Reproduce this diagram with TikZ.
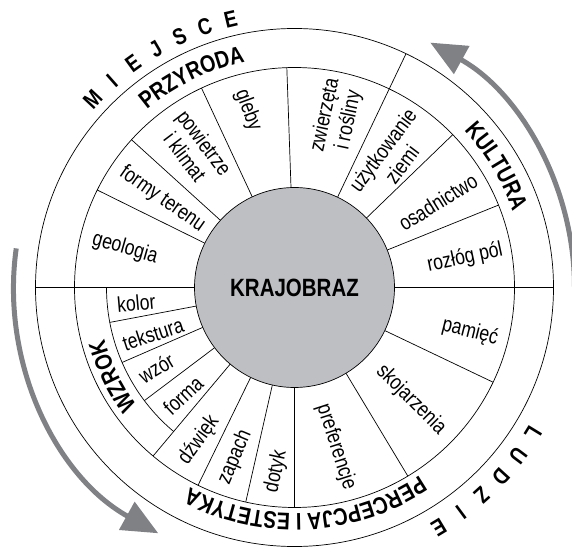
\documentclass[tikz,border=0pt]{standalone}
\usepackage{fontspec}
\setmainfont{Liberation Sans}[FakeStretch=0.82]
\usetikzlibrary{arrows.meta,decorations.text}
\definecolor{hubgray}{RGB}{190,191,195}
\definecolor{arrowgray}{RGB}{128,129,133}
\newcommand\bandfont{\fontsize{24}{26}\selectfont\bfseries}

\begin{document}
\begin{tikzpicture}[x=1pt,y=1pt,
  ring/.style={draw,line width=0.7pt},
  spoke/.style={line width=0.7pt},
  hub/.style={draw,circle,fill=hubgray,line width=0.7pt,minimum size=200pt,inner sep=0pt,font=\fontsize{25}{25}\selectfont\bfseries},
  lbl/.style={align=center,inner sep=0pt,font=\fontsize{21.5}{24}\selectfont},
  letter/.style={inner sep=0pt,font=\fontsize{23}{24}\selectfont\bfseries},
  flow/.style={draw=arrowgray,line width=5pt,-{Triangle[length=36pt,width=31pt]}},
  band/.style={decorate,decoration={text along path,text align=center}}]
\useasboundingbox (-294.5,-260.5) rectangle (277.5,287.5);
\draw[ring] (0,0) circle[radius=259];
\draw[ring] (0,0) circle[radius=220];
\draw[ring] (180:188) arc[start angle=180,end angle=230,radius=188];
\draw[spoke] (0:100) -- (0:259);
\draw[spoke] (22:100) -- (22:220);
\draw[spoke] (44:100) -- (44:220);
\draw[spoke] (64.5:100) -- (64.5:259);
\draw[spoke] (92:100) -- (92:220);
\draw[spoke] (115:100) -- (115:220);
\draw[spoke] (137.8:100) -- (137.8:220);
\draw[spoke] (153.7:100) -- (153.7:220);
\draw[spoke] (180:100) -- (180:259);
\draw[spoke] (190.7:100) -- (190.7:188);
\draw[spoke] (203.5:100) -- (203.5:188);
\draw[spoke] (217:100) -- (217:188);
\draw[spoke] (230:100) -- (230:220);
\draw[spoke] (244:100) -- (244:220);
\draw[spoke] (257.2:100) -- (257.2:220);
\draw[spoke] (270:100) -- (270:220);
\draw[spoke] (-59:100) -- (-59:220);
\draw[spoke] (-25.5:100) -- (-25.5:220);
\node[hub] (krajobraz) at (0,0) {KRAJOBRAZ};

\node[lbl,rotate=-16] (geologia) at (167:174) {geologia};
\node[lbl,rotate=-35] (formy) at (146.2:159) {formy terenu};
\node[lbl,rotate=-53] (powietrze) at (125.9:170) {powietrze\\i klimat};
\node[lbl,rotate=-70] (gleby) at (104.7:183) {gleby};
\node[lbl,rotate=78] (zwierzeta) at (75.9:175) {zwierzęta\\i rośliny};
\node[lbl,rotate=53] (uzytkowanie) at (53.2:163) {użytkowanie\\ziemi};
\node[lbl,rotate=32] (osadnictwo) at (30.8:167) {osadnictwo};
\node[lbl,rotate=12] (rozlog) at (9.8:173) {rozłóg pól};
\node[lbl,rotate=-14] (pamiec) at (-14.2:181) {pamięć};
\node[lbl,rotate=-45] (skojarzenia) at (-44:162) {skojarzenia};
\node[lbl,rotate=-72] (preferencje) at (-75.4:165) {preferencje};
\node[lbl,rotate=78] (dotyk) at (264.3:185) {dotyk};
\node[lbl,rotate=67] (zapach) at (250.7:180) {zapach};
\node[lbl,rotate=54] (dzwiek) at (237.9:180) {dźwięk};
\node[lbl,rotate=43] (forma) at (224:155) {forma};
\node[lbl,rotate=31] (wzor) at (210.2:160) {wzór};
\node[lbl,rotate=18] (tekstura) at (198.2:149) {tekstura};
\node[lbl,rotate=5] (kolor) at (185.6:159) {kolor};

\path[band,decoration={text={|\bandfont|PRZYRODA}}] (146:231) arc[start angle=146,end angle=86,radius=231];
\path[band,decoration={text={|\bandfont|KULTURA}}] (61:231) arc[start angle=61,end angle=1,radius=231];
\path[band,decoration={text={|\bandfont|PERCEPCJA I ESTETYKA}}] (-30:226) arc[start angle=-30,end angle=-144,radius=226];
\path[band,decoration={text={|\bandfont|WZROK}}] (236:197) arc[start angle=236,end angle=176,radius=197];

\node[letter,rotate=47] (m1) at (137:276) {M};
\node[letter,rotate=41.4] (m2) at (131.4:276) {I};
\node[letter,rotate=35.8] (m3) at (125.8:276) {E};
\node[letter,rotate=30.2] (m4) at (120.2:276) {J};
\node[letter,rotate=24.6] (m5) at (114.6:276) {S};
\node[letter,rotate=19] (m6) at (109:276) {C};
\node[letter,rotate=13.4] (m7) at (103.4:276) {E};
\node[letter,rotate=-121.5] (l1) at (-31.5:280) {L};
\node[letter,rotate=-127] (l2) at (-37:280) {U};
\node[letter,rotate=-132.5] (l3) at (-42.5:280) {D};
\node[letter,rotate=-138] (l4) at (-48:280) {Z};
\node[letter,rotate=-143.5] (l5) at (-53.5:280) {I};
\node[letter,rotate=-149] (l6) at (-59:280) {E};

\draw[flow] (172:281) arc[start angle=172,end angle=241,radius=281];
\draw[flow] (0:280) arc[start angle=0,end angle=61,radius=280];
\end{tikzpicture}
\end{document}
